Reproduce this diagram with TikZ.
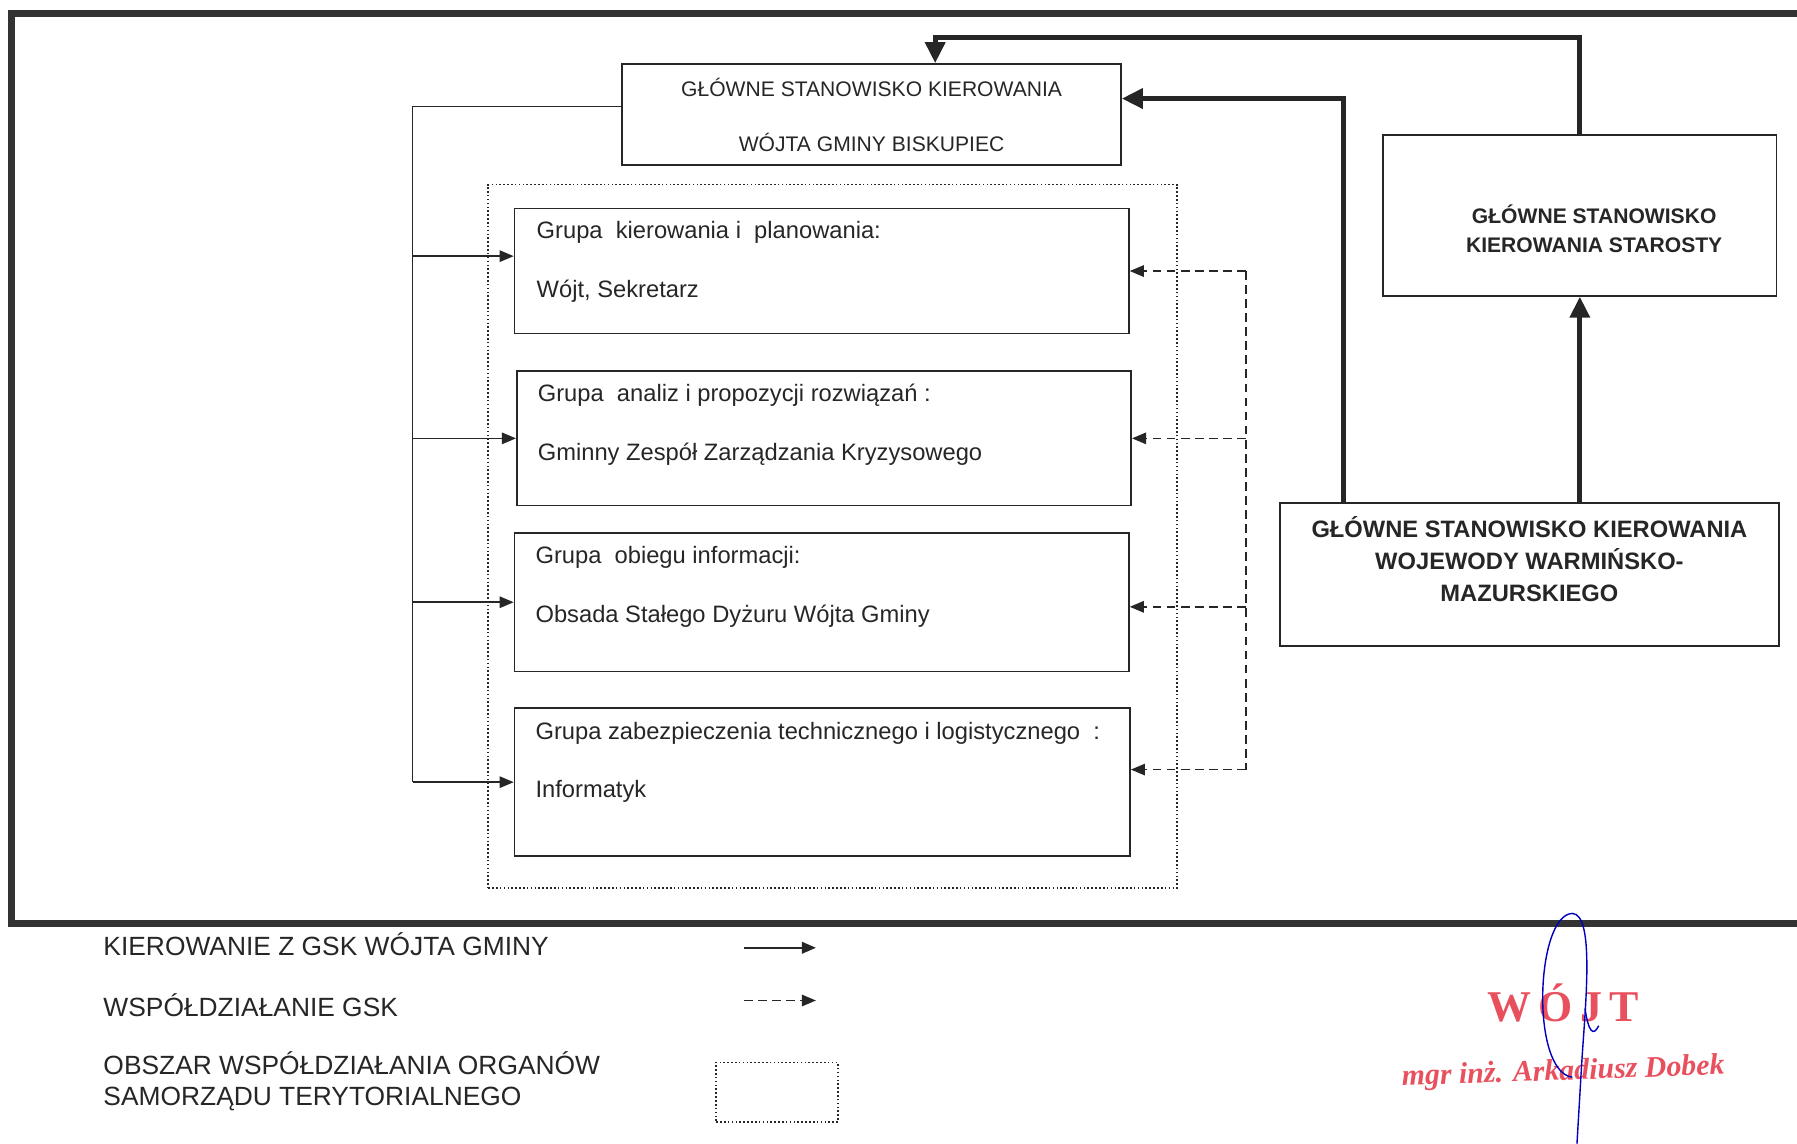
\documentclass[tikz,border=0pt]{standalone}
\usepackage{fontspec}
\setmainfont{Liberation Sans}
\newfontfamily\stampfont{Liberation Serif}
\usetikzlibrary{arrows.meta,calc}
\definecolor{stampred}{HTML}{E9505E}
\newlength{\pxu}
\setlength{\pxu}{0.2292mm}

\begin{document}
\begin{tikzpicture}[x=0.2292mm, y=-0.2292mm,
    box/.style={draw=black!85, line width=1pt, inner sep=0pt},
    obszar/.style={draw=black!85, line width=0.9pt, dash pattern=on 0.9pt off 1.3pt, inner sep=0pt},
    gtxt/.style={font=\fontsize{13.5}{33.2}\selectfont, align=left, anchor=west, inner sep=0pt, text=black!85},
    legtxt/.style={font=\fontsize{15}{17.6}\selectfont, align=left, anchor=west, inner sep=0pt, text=black!85},
    kier/.style={draw=black!85, line width=0.9pt},
    kierarr/.style={kier, -{Triangle[length=8pt,width=6.5pt]}},
    wspol/.style={draw=black!85, line width=0.9pt, dash pattern=on 5pt off 3pt},
    wspolarr/.style={wspol, -{Triangle[length=8pt,width=6.5pt]}},
    gsk/.style={draw=black!85, line width=3pt, -{Triangle[length=12pt,width=11pt]}}]
  \useasboundingbox (0,0) rectangle (1568,998);
  % ramka
  \draw[line width=4pt, draw=black!80] (1575,12) -| (10,806) -- (1575,806);

  % stanowiska kierowania
  \node[box, minimum width=435\pxu, minimum height=88\pxu, font=\fontsize{12}{31.2}\selectfont, align=center, text=black!85] (wojt) at (760.5,100) {GŁÓWNE STANOWISKO KIEROWANIA\\WÓJTA GMINY BISKUPIEC};
  \node[box, minimum width=343\pxu, minimum height=140\pxu] (starosta) at (1378.5,188) {};
  \node[font=\fontsize{12}{16.3}\selectfont\bfseries, align=center, inner sep=0pt, text=black!85] (starostaT) at (1391,199.5) {GŁÓWNE STANOWISKO\\KIEROWANIA STAROSTY};
  \node[box, minimum width=435\pxu, minimum height=125\pxu] (wojewoda) at (1334.5,501.5) {};
  \node[font=\fontsize{13.5}{18.2}\selectfont\bfseries, align=center, inner sep=0pt, text=black!85] (wojewodaT) at (1334.5,488) {GŁÓWNE STANOWISKO KIEROWANIA\\WOJEWODY WARMIŃSKO-\\MAZURSKIEGO};

  % obszar i grupy
  \node[obszar, minimum width=601\pxu, minimum height=614\pxu] (obszar) at (726.5,468) {};
  \node[box, minimum width=536\pxu, minimum height=109\pxu] (grpKier) at (717,236.5) {};
  \node[box, minimum width=536\pxu, minimum height=117\pxu] (grpAnal) at (719,382.5) {};
  \node[box, minimum width=536\pxu, minimum height=121\pxu] (grpObieg) at (717,525.5) {};
  \node[box, minimum width=537\pxu, minimum height=129\pxu] (grpZab) at (717.5,682.5) {};
  \node[gtxt] (grpKierT) at (468,228.5) {Grupa\ \ kierowania i\ \ planowania:\\Wójt, Sekretarz};
  \node[gtxt] (grpAnalT) at (469,370.5) {Grupa\ \ analiz i propozycji rozwiązań :\\Gminny Zespół Zarządzania Kryzysowego};
  \node[gtxt] (grpObiegT) at (467,512) {Grupa\ \ obiegu informacji:\\Obsada Stałego Dyżuru Wójta Gminy};
  \node[gtxt] (grpZabT) at (467,665) {Grupa zabezpieczenia technicznego i logistycznego\ \ :\\Informatyk};

  % kierowanie z GSK wojta
  \coordinate (lbus) at (360,93);
  \coordinate (kierL) at ($(grpKier.west)+(0,-13)$);
  \draw[kier] (wojt.west |- lbus) -- (lbus) -- (lbus |- grpZab.west);
  \draw[kierarr] (lbus |- kierL) -- (kierL);
  \draw[kierarr] (lbus |- grpAnal.west) -- (grpAnal.west);
  \draw[kierarr] (lbus |- grpObieg.west) -- (grpObieg.west);
  \draw[kierarr] (lbus |- grpZab.west) -- (grpZab.west);

  % wspoldzialanie
  \coordinate (dbus) at (1087,0);
  \coordinate (obiegR) at ($(grpObieg.east)+(0,4)$);
  \coordinate (zabR) at ($(grpZab.east)+(0,-11)$);
  \draw[wspol] (dbus |- grpKier.east) -- (dbus |- zabR);
  \draw[wspolarr] (dbus |- grpKier.east) -- (grpKier.east);
  \draw[wspolarr] (dbus |- grpAnal.east) -- (grpAnal.east);
  \draw[wspolarr] (dbus |- obiegR) -- (obiegR);
  \draw[wspolarr] (dbus |- zabR) -- (zabR);

  % GSK wojewody i starosty
  \coordinate (wwL) at ($(wojewoda.north west)+(56,0)$);
  \coordinate (wojtR) at ($(wojt.east)+(0,-14)$);
  \coordinate (gora) at (816,33);
  \draw[gsk] (wwL) |- (wojtR);
  \draw[gsk] (starosta.south |- wojewoda.north) -- (starosta.south);
  \draw[gsk] (starosta.north) |- (gora) -- (gora |- wojt.north);

  % legenda
  \node[legtxt] (legKier) at (90,824) {KIEROWANIE Z GSK WÓJTA GMINY};
  \node[legtxt] (legWsp) at (90,877) {WSPÓŁDZIAŁANIE GSK};
  \node[legtxt] (legObsz) at (90,943.5) {OBSZAR WSPÓŁDZIAŁANIA ORGANÓW\\SAMORZĄDU TERYTORIALNEGO};
  \coordinate (lk1a) at (649,827);
  \coordinate (lk1b) at (712,827);
  \coordinate (lk2a) at (649,873);
  \coordinate (lk2b) at (712,873);
  \draw[kierarr, line width=1.3pt] (lk1a) -- (lk1b);
  \draw[wspolarr] (lk2a) -- (lk2b);
  \node[obszar, minimum width=106\pxu, minimum height=52\pxu] (legObszBox) at (678,953) {};

  % pieczec i podpis
  \node[text=stampred, font=\stampfont\fontsize{25}{25}\selectfont\bfseries] (stampW) at (1364,875) {W\,Ó\,J\,T};
  \node[text=stampred, font=\stampfont\fontsize{17}{17}\selectfont\bfseries\itshape, rotate=2] (stampN) at (1364,936) {mgr inż. Arkadiusz Dobek};
  \draw[blue!75!black, line width=0.8pt] (1372,940) .. controls (1335,935) and (1340,798) .. (1372,797) .. controls (1392,798) and (1383,880) .. (1380,930) -- (1376,998);
  \draw[blue!75!black, line width=0.8pt] (1383,880) .. controls (1386,900) and (1390,905) .. (1395,895);
\end{tikzpicture}
\end{document}
